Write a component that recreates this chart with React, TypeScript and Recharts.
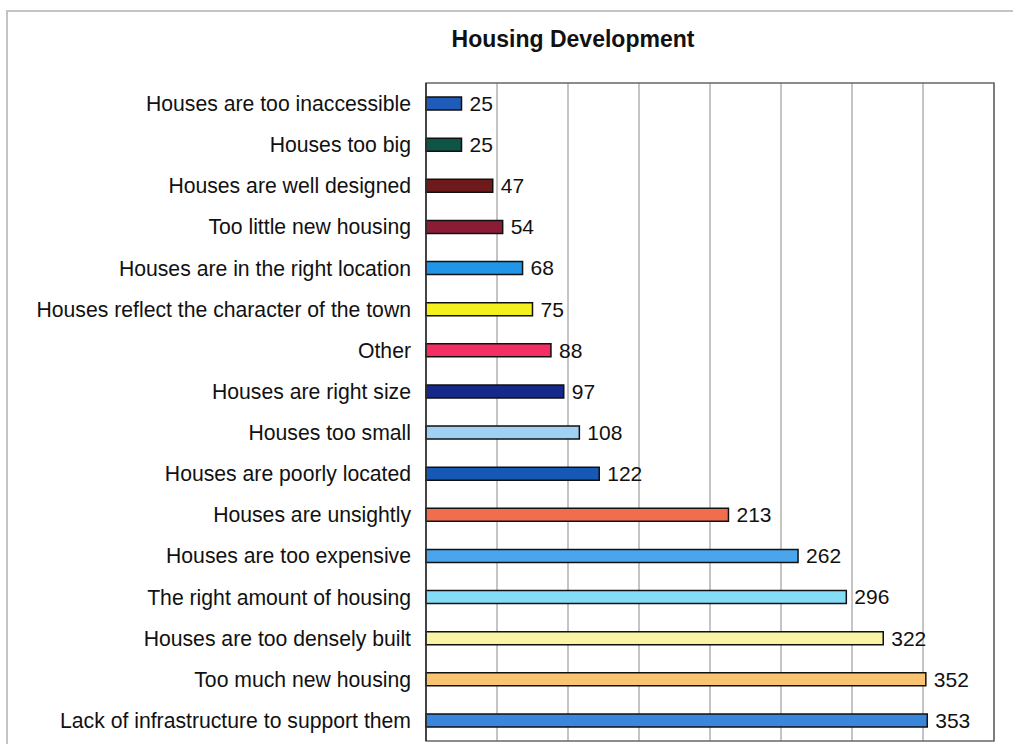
import { BarChart, Bar, XAxis, YAxis, CartesianGrid, Cell, LabelList, ReferenceArea } from 'recharts'

const categories = [
  'Houses are too inaccessible',
  'Houses too big',
  'Houses are well designed',
  'Too little new housing',
  'Houses are in the right location',
  'Houses reflect the character of the town',
  'Other',
  'Houses are right size',
  'Houses too small',
  'Houses are poorly located',
  'Houses are unsightly',
  'Houses are too expensive',
  'The right amount of housing',
  'Houses are too densely built',
  'Too much new housing',
  'Lack of infrastructure to support them',
]

const responses = [25, 25, 47, 54, 68, 75, 88, 97, 108, 122, 213, 262, 296, 322, 352, 353]

const xTicks = [0, 50, 100, 150, 200, 250, 300, 350, 400]

const COLORS = [
  '#1f5bb8', '#0e5547', '#6e1a1a', '#8a1c36', '#2196e8', '#f4f01e', '#f42e62', '#16288a',
  '#a0d0f4', '#1659b4', '#f06e4e', '#4aa6ec', '#84dcf6', '#f8f4a4', '#f8c472', '#3a86dc',
]

const FONT = '"Liberation Sans", Arial, Helvetica, sans-serif'

export default function App() {
  const data = categories.map((name, i) => ({ name, value: responses[i] }))

  return (
    <div style={{ position: 'absolute', left: 0, top: 0, width: 1013, height: 744, overflow: 'hidden', background: '#fff', fontFamily: FONT }}>
      <div style={{ position: 'absolute', left: 6, top: 10, width: 1100, height: 800, borderLeft: '2px solid #c4c4c4', borderTop: '2px solid #c4c4c4' }} />
      <div style={{ position: 'absolute', left: 0, top: 28, width: 1146, textAlign: 'center', fontSize: 23, lineHeight: '23px', fontWeight: 'bold', color: '#111' }}>
        Housing Development
      </div>
      <div style={{ position: 'absolute', left: 0, top: 0 }}>
        <BarChart
          width={1013}
          height={744}
          data={data}
          layout="vertical"
          margin={{ top: 83, right: 19, left: 0, bottom: 3 }}
          barSize={13}
        >
          <CartesianGrid horizontal={false} stroke="#8a8a8a" strokeWidth={1} />
          <XAxis type="number" domain={[0, 400]} ticks={xTicks} hide />
          <YAxis
            type="category"
            dataKey="name"
            width={426}
            tickLine={false}
            tickMargin={9}
            axisLine={{ stroke: '#333', strokeWidth: 1.5 }}
            tick={{ fontSize: 21.2, fill: '#111', fontFamily: FONT }}
            interval={0}
          />
          <ReferenceArea x1={0} x2={400} fill="none" stroke="#666" strokeWidth={1.5} ifOverflow="visible" />
          <Bar dataKey="value" stroke="#111" strokeWidth={1.5} isAnimationActive={false}>
            {data.map((_, i) => (
              <Cell key={`c-${i}`} fill={COLORS[i]} />
            ))}
            <LabelList dataKey="value" position="right" offset={8} style={{ fontSize: 21, fill: '#111', fontFamily: FONT }} />
          </Bar>
        </BarChart>
      </div>
    </div>
  )
}
